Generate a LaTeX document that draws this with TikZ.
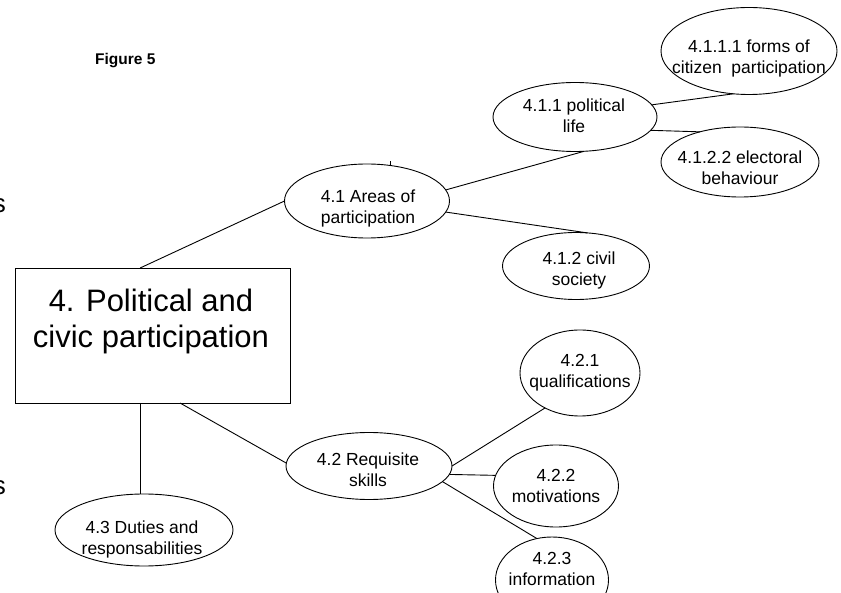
\documentclass[tikz,border=0pt]{standalone}
\usepackage{fontspec}
\setmainfont{Liberation Sans}
\usetikzlibrary{shapes.geometric,calc}
\begin{document}
\begin{tikzpicture}[x=1pt,y=-1pt,
  ell/.style={draw, ellipse, inner sep=0pt, outer sep=0pt, line width=0.9pt},
  lbl/.style={align=center, inner sep=0pt, font=\fontsize{17.5}{21}\selectfont},
  conn/.style={line width=0.9pt},
  edgetxt/.style={inner sep=0pt, anchor=base east, font=\fontsize{26}{30}\selectfont}]
\fill[white] (0,0) rectangle (841,593);
\useasboundingbox (0,0) rectangle (841,593);

% title
\node[font=\bfseries\fontsize{15.5}{18}\selectfont, inner sep=0pt, anchor=base west] (fig) at (95,65) {Figure 5};

% cut-off letters at the left edge
\node[edgetxt] (cut1) at (6,213) {s};
\node[edgetxt] (cut2) at (6,494) {s};

% main box
\node[draw, line width=0.9pt, minimum width=275, minimum height=135, inner sep=0pt, outer sep=0pt, anchor=north west] (main) at (15,268) {};
\node[align=center, inner sep=0pt, font=\fontsize{31}{36}\selectfont] (maintxt) at (151,321) {4. Political and\\civic participation};

% ellipses
\node[ell, minimum width=165, minimum height=74] (e41) at (367,201) {};
\node[lbl] (t41) at (368,208) {4.1 Areas of\\participation};

\node[ell, minimum width=164, minimum height=69] (e411) at (575,117) {};
\node[lbl] (t411) at (574,116) {4.1.1 political\\life};

\node[ell, minimum width=176, minimum height=87] (e4111) at (749,51) {};
\node[lbl] (t4111) at (749,58) {4.1.1.1 forms of\\citizen\ \ participation};

\node[ell, minimum width=158, minimum height=70] (e4122) at (740,162) {};
\node[lbl] (t4122) at (740,168) {4.1.2.2 electoral\\behaviour};

\node[ell, minimum width=147, minimum height=67] (e412) at (576,266) {};
\node[lbl] (t412) at (579,270) {4.1.2 civil\\society};

\node[ell, minimum width=166, minimum height=67] (e42) at (369,466) {};
\node[lbl] (t42) at (368,470) {4.2 Requisite\\skills};

\node[ell, minimum width=120, minimum height=86] (e421) at (580,373) {};
\node[lbl] (t421) at (580,373) {4.2.1\\qualifications};

\node[ell, minimum width=125, minimum height=82] (e422) at (556,486) {};
\node[lbl] (t422) at (556,486) {4.2.2\\motivations};

\node[ell, minimum width=113, minimum height=86] (e423) at (552,580) {};
\node[lbl] (t423) at (552,569) {4.2.3\\information};

\node[ell, minimum width=178, minimum height=72] (e43) at (144,530) {};
\node[lbl] (t43) at (142,539) {4.3 Duties and\\responsabilities};

% connectors
\draw[conn] ($(main.north)!0.09!(main.north west)$) -- (e41.180);
\draw[conn] (e41.8) -- (e411.-75);
\draw[conn] (e41.-8) -- (e412.71);
\draw[conn] (e411.9) -- (e4111.-110);
\draw[conn] (e411.-10) -- (e4122.143);
\draw[conn] ($(main.south)!0.2!(main.south east)$) -- (e42.178);
\draw[conn] (e42.0) -- (e421.-135);
\draw[conn] (e42.-6.4) -- (e422.170);
\draw[conn] (e42.-12) -- (e423.110);
\draw[conn] ($(main.south)!0.09!(main.south west)$) -- (e43.north -| {$(main.south)!0.09!(main.south west)$});
% small tick on top of 4.1
\draw[conn] (e41.57) -- ++(0,-4);
\end{tikzpicture}
\end{document}
